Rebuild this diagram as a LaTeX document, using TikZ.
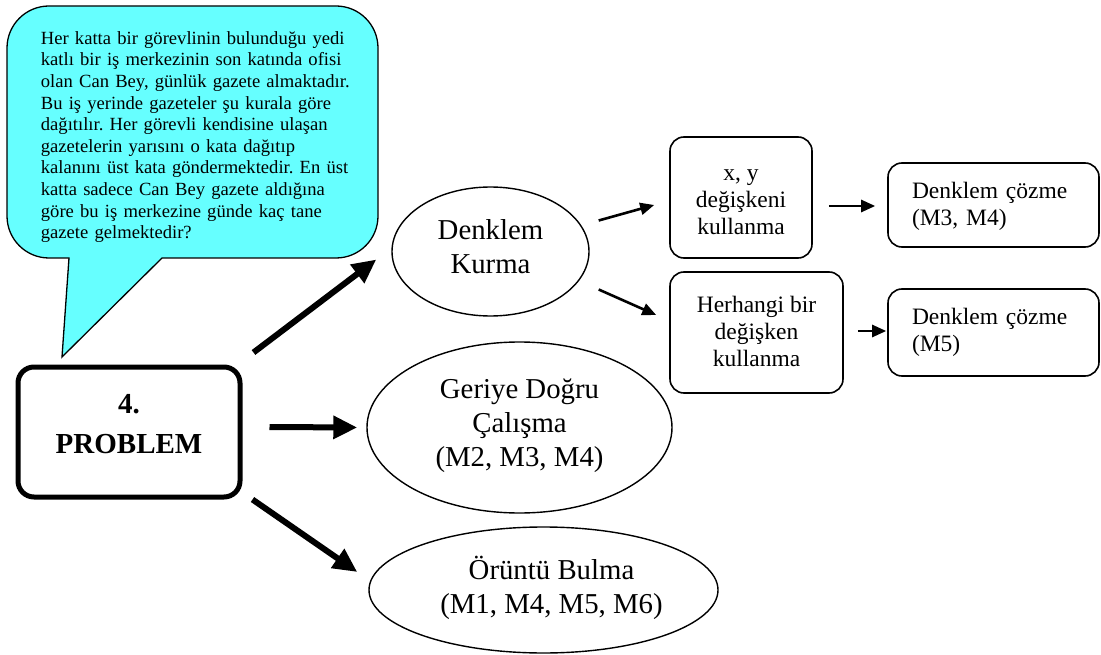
\documentclass[tikz,border=0pt]{standalone}
\usepackage{fontspec}
\setmainfont{Liberation Serif}
\usetikzlibrary{arrows.meta,shapes.geometric}
\definecolor{calloutcyan}{RGB}{102,255,255}
\frenchspacing
\newcommand{\fcall}{\fontsize{18.6pt}{21.6pt}\selectfont}
\newcommand{\fboxtxt}{\fontsize{23.5pt}{27pt}\selectfont}
\newcommand{\foval}{\fontsize{28.8pt}{34pt}\selectfont}
\newcommand{\fprob}{\fontsize{29pt}{40pt}\selectfont\bfseries}
\tikzset{
  oval/.style={ellipse, draw, line width=1.4pt, inner sep=0pt, align=center,
    font=\foval, execute at begin node=\strut, execute at end node=\strut},
  stepbox/.style={rectangle, draw, line width=1.6pt, rounded corners=14pt, inner sep=0pt,
    font=\fboxtxt, execute at begin node=\strut, execute at end node=\strut},
  probbox/.style={rectangle, draw, line width=5pt, rounded corners=16pt, inner sep=0pt,
    align=center, font=\fprob},
  bigarrow/.style={line width=6pt, -{Triangle[length=24pt,width=22pt]}},
  thinarrow/.style={line width=2.6pt, -{Triangle[length=14pt,width=12pt]}},
}
\begin{document}
\begin{tikzpicture}[x=1pt,y=1pt]
\useasboundingbox (0,0) rectangle (1101,-655);

% speech bubble
\draw[fill=calloutcyan, line width=1.3pt, line join=miter]
  (69,-258) -- (62,-357) -- (162,-258) -- (336,-258)
  arc[start angle=-90, end angle=0, radius=42pt] -- (378,-48)
  arc[start angle=0, end angle=90, radius=42pt] -- (49,-6)
  arc[start angle=90, end angle=180, radius=42pt] -- (7,-216)
  arc[start angle=180, end angle=270, radius=42pt] -- cycle;
\node[anchor=north west, inner sep=0pt, text width=330pt, align=left, font=\fcall]
  (bubbletext) at (40.7,-29)
  {\strut Her katta bir görevlinin bulunduğu yedi\\
   katlı bir iş merkezinin son katında ofisi\\
   olan Can Bey, günlük gazete almaktadır.\\
   Bu iş yerinde gazeteler şu kurala göre\\
   dağıtılır. Her görevli kendisine ulaşan\\
   gazetelerin yarısını o kata dağıtıp\\
   kalanını üst kata göndermektedir. En üst\\
   katta sadece Can Bey gazete aldığına\\
   göre bu iş merkezine günde kaç tane\\
   gazete gelmektedir?};

% problem box
\node[probbox, minimum width=222pt, minimum height=130pt] (prob) at (129,-432)
  {\strut 4.\\PROBLEM\rule[-26pt]{0pt}{26pt}};

% ellipses
\node[oval, minimum width=197pt, minimum height=129pt] (kurma) at (490.5,-251.5) {Denklem\\Kurma};
\node[oval, minimum width=305pt, minimum height=171pt] (geri) at (519.5,-427.5) {Geriye Doğru\\Çalışma\\(M2, M3, M4)};
\node[oval, minimum width=349pt, minimum height=126pt] (orun) at (543.5,-590) {\hspace*{16pt}Örüntü Bulma\\\hspace*{16pt}(M1, M4, M5, M6)};

% boxes
\node[stepbox, align=center, minimum width=142pt, minimum height=121pt] (xy) at (741,-197.5) {\rule{0pt}{28.9pt}x, y\\değişkeni\\kullanma};
\node[stepbox, align=center, minimum width=173pt, minimum height=121pt] (herh) at (756.5,-332.5) {\rule{0pt}{21.9pt}Herhangi bir\\değişken\\kullanma};
\node[stepbox, align=left, text width=163pt, minimum width=211pt, minimum height=84pt] (dc1) at (993.5,-205) {\rule{0pt}{21.9pt}Denklem çözme\\(M3, M4)};
\node[stepbox, align=left, text width=163pt, minimum width=211pt, minimum height=87pt] (dc2) at (993.5,-332.5) {Denklem çözme\\(M5)};

% thick arrows
\draw[bigarrow] ([shift={(11pt,12pt)}]prob.north east) -- ([shift={(-15pt,-8pt)}]kurma.west);
\draw[bigarrow] ([shift={(27pt,5pt)}]prob.east) -- ([shift={(-9pt,0pt)}]geri.west);
\draw[bigarrow] ([shift={(10pt,0pt)}]prob.south east) -- ([shift={(-11pt,18pt)}]orun.west);

% thin arrows
\draw[thinarrow] ([shift={(9pt,31pt)}]kurma.east) -- ([shift={(-15pt,-7.5pt)}]xy.west);
\draw[thinarrow] ([shift={(9pt,-38pt)}]kurma.east) -- ([shift={(-13pt,17.5pt)}]herh.west);
\draw[thinarrow] ([shift={(16pt,-8.5pt)}]xy.east) -- ([shift={(-12pt,-1pt)}]dc1.west);
\draw[thinarrow] ([shift={(14pt,1.5pt)}]herh.east) -- ([shift={(-1pt,1.5pt)}]dc2.west);
\end{tikzpicture}
\end{document}
